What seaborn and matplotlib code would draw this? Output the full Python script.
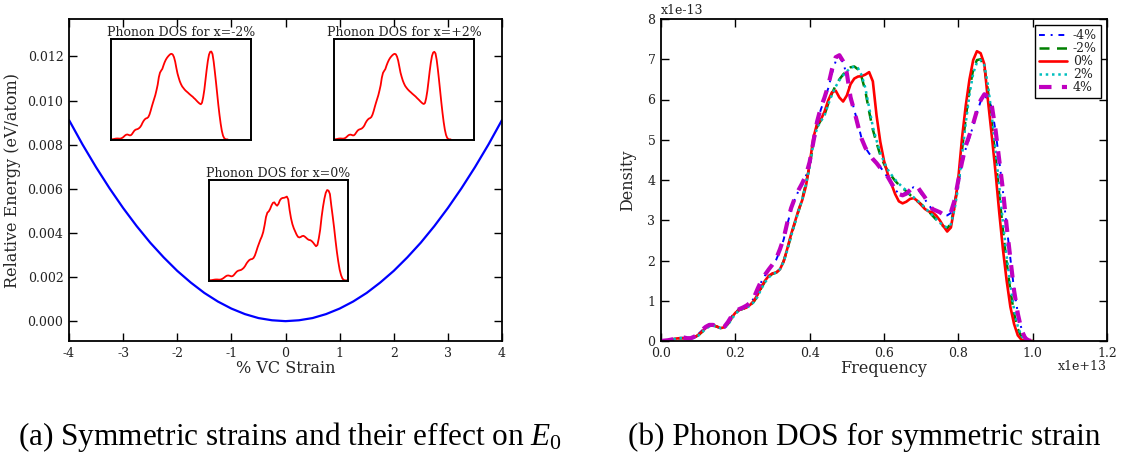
import numpy as np
import pandas as pd
import matplotlib
matplotlib.use("Agg")
import matplotlib.pyplot as plt
import seaborn as sns

# ---------------- data ----------------
strain = [-4.0, -3.75, -3.5, -3.25, -3.0, -2.75, -2.5, -2.25, -2.0, -1.75, -1.5, -1.25,
          -1.0, -0.75, -0.5, -0.25, 0.0, 0.25, 0.5, 0.75, 1.0, 1.25, 1.5, 1.75,
          2.0, 2.25, 2.5, 2.75, 3.0, 3.25, 3.5, 3.75, 4.0]
energy = [0.00912, 0.00801, 0.00698, 0.00602, 0.00513, 0.00431, 0.00356, 0.00289,
          0.00228, 0.00175, 0.00128, 0.00089, 0.00057, 0.00032, 0.00014, 0.00004,
          0.0,
          0.00004, 0.00014, 0.00032, 0.00057, 0.00089, 0.00128, 0.00175, 0.00228,
          0.00289, 0.00356, 0.00431, 0.00513, 0.00602, 0.00698, 0.00801, 0.00912]

# frequency grid in units of 1e13
freq = [round(i * 0.01, 2) for i in range(101)]

dos_m4 = [0.00, 0.01, 0.02, 0.04, 0.06, 0.08, 0.08, 0.07, 0.07, 0.10,
          0.17, 0.26, 0.34, 0.39, 0.40, 0.36, 0.31, 0.34, 0.46, 0.61,
          0.72, 0.79, 0.83, 0.87, 0.94, 1.06, 1.27, 1.47, 1.63, 1.76,
          1.88, 2.02, 2.24, 2.52, 2.90, 3.26, 3.52, 3.73, 3.90, 4.10,
          4.42, 4.92, 5.40, 5.75, 6.00, 6.28, 6.65, 6.95, 7.05, 6.92,
          6.60, 6.10, 5.74, 5.40, 5.02, 4.80, 4.66, 4.55, 4.44, 4.32,
          4.20, 4.06, 3.90, 3.76, 3.66, 3.64, 3.70, 3.78, 3.82, 3.78,
          3.66, 3.52, 3.38, 3.27, 3.22, 3.18, 3.13, 3.12, 3.18, 3.45,
          3.92, 4.38, 4.78, 5.05, 5.35, 5.68, 5.95, 6.08, 6.02, 5.80,
          5.22, 4.48, 3.72, 2.85, 2.05, 1.28, 0.70, 0.30, 0.10, 0.05,
          0.00]
dos_m2 = [0.00, 0.01, 0.02, 0.04, 0.06, 0.07, 0.07, 0.06, 0.06, 0.09,
          0.14, 0.22, 0.31, 0.37, 0.39, 0.36, 0.32, 0.33, 0.42, 0.56,
          0.69, 0.77, 0.80, 0.83, 0.89, 0.98, 1.12, 1.32, 1.48, 1.60,
          1.67, 1.70, 1.78, 1.98, 2.28, 2.62, 2.93, 3.23, 3.53, 3.92,
          4.35, 4.95, 5.32, 5.48, 5.62, 5.90, 6.15, 6.35, 6.50, 6.62,
          6.72, 6.80, 6.82, 6.75, 6.55, 6.20, 5.70, 5.25, 4.92, 4.62,
          4.40, 4.22, 4.10, 3.98, 3.88, 3.80, 3.72, 3.63, 3.55, 3.47,
          3.40, 3.30, 3.22, 3.12, 3.02, 2.93, 2.85, 2.80, 2.92, 3.35,
          3.95, 4.75, 5.55, 6.25, 6.75, 6.98, 7.00, 6.80, 6.20, 5.40,
          4.55, 3.65, 2.75, 1.95, 1.25, 0.68, 0.30, 0.10, 0.02, 0.00,
          0.00]
dos_0 = [0.00, 0.01, 0.02, 0.04, 0.06, 0.07, 0.07, 0.06, 0.06, 0.09,
         0.15, 0.23, 0.32, 0.38, 0.39, 0.36, 0.32, 0.34, 0.44, 0.58,
         0.70, 0.77, 0.80, 0.83, 0.90, 1.00, 1.15, 1.35, 1.50, 1.62,
         1.68, 1.70, 1.78, 1.98, 2.30, 2.65, 2.95, 3.25, 3.50, 3.85,
         4.40, 5.05, 5.40, 5.50, 5.70, 5.98, 6.18, 6.22, 6.05, 5.95,
         6.10, 6.38, 6.52, 6.57, 6.58, 6.62, 6.68, 6.45, 5.60, 4.95,
         4.48, 4.15, 3.90, 3.65, 3.47, 3.42, 3.46, 3.53, 3.55, 3.48,
         3.38, 3.28, 3.22, 3.20, 3.12, 3.00, 2.85, 2.72, 2.82, 3.35,
         4.05, 5.05, 5.85, 6.50, 6.98, 7.20, 7.15, 6.88, 5.95, 5.10,
         4.20, 3.20, 2.28, 1.50, 0.85, 0.42, 0.14, 0.03, 0.00, 0.00,
         0.00]
dos_p2 = [0.00, 0.01, 0.02, 0.04, 0.06, 0.07, 0.07, 0.06, 0.06, 0.08,
          0.13, 0.21, 0.30, 0.36, 0.38, 0.36, 0.32, 0.32, 0.40, 0.54,
          0.67, 0.76, 0.80, 0.83, 0.88, 0.97, 1.10, 1.30, 1.46, 1.58,
          1.66, 1.70, 1.78, 1.97, 2.26, 2.60, 2.92, 3.22, 3.52, 3.90,
          4.32, 4.92, 5.30, 5.46, 5.60, 5.88, 6.12, 6.32, 6.48, 6.60,
          6.70, 6.78, 6.82, 6.78, 6.60, 6.28, 5.80, 5.32, 4.98, 4.68,
          4.45, 4.26, 4.13, 4.01, 3.91, 3.82, 3.74, 3.65, 3.57, 3.49,
          3.41, 3.31, 3.22, 3.13, 3.03, 2.94, 2.86, 2.82, 2.90, 3.28,
          3.85, 4.62, 5.42, 6.12, 6.65, 6.92, 6.98, 6.85, 6.35, 5.60,
          4.75, 3.85, 2.95, 2.12, 1.38, 0.78, 0.36, 0.12, 0.03, 0.00,
          0.00]
dos_p4 = [0.00, 0.01, 0.02, 0.04, 0.07, 0.09, 0.09, 0.07, 0.07, 0.11,
          0.18, 0.27, 0.35, 0.40, 0.40, 0.36, 0.31, 0.35, 0.47, 0.62,
          0.73, 0.79, 0.83, 0.88, 0.95, 1.08, 1.30, 1.50, 1.65, 1.78,
          1.90, 2.05, 2.28, 2.55, 2.95, 3.30, 3.55, 3.75, 3.92, 4.12,
          4.45, 4.95, 5.45, 5.80, 6.05, 6.35, 6.75, 7.05, 7.10, 6.95,
          6.65, 6.05, 5.72, 5.35, 5.02, 4.80, 4.65, 4.52, 4.42, 4.30,
          4.20, 4.08, 3.92, 3.77, 3.65, 3.62, 3.66, 3.75, 3.84, 3.83,
          3.70, 3.57, 3.42, 3.28, 3.24, 3.20, 3.14, 3.13, 3.20, 3.50,
          4.00, 4.45, 4.85, 5.12, 5.40, 5.72, 5.98, 6.13, 6.08, 5.85,
          5.25, 4.50, 3.75, 2.85, 2.05, 1.25, 0.68, 0.27, 0.07, 0.01,
          0.00]

series_labels = ["-4%", "-2%", "0%", "2%", "4%"]
series_values = [dos_m4, dos_m2, dos_0, dos_p2, dos_p4]

left_xticks = [-4, -3, -2, -1, 0, 1, 2, 3, 4]
left_yticks = [0.000, 0.002, 0.004, 0.006, 0.008, 0.010, 0.012]
right_xticks = [0.0, 0.2, 0.4, 0.6, 0.8, 1.0, 1.2]
right_yticks = [0, 1, 2, 3, 4, 5, 6, 7, 8]

inset_titles = ["Phonon DOS for x=-2%", "Phonon DOS for x=+2%", "Phonon DOS for x=0%"]

# ---------------- style ----------------
sns.set_theme(style="white")
plt.rcParams["font.family"] = ["DejaVu Serif"]
plt.rcParams["mathtext.fontset"] = "custom"
plt.rcParams["mathtext.rm"] = "Liberation Serif"
plt.rcParams["mathtext.it"] = "Liberation Serif:italic"
plt.rcParams["axes.edgecolor"] = "black"
plt.rcParams["text.color"] = "#222222"

W, H = 1121, 457
fig = plt.figure(figsize=(W / 100, H / 100), dpi=100)


def px_axes(x0, y0, x1, y1):
    return fig.add_axes([x0 / W, 1 - y1 / H, (x1 - x0) / W, (y1 - y0) / H])


def style_main(ax):
    for s in ax.spines.values():
        s.set_linewidth(1.3)
        s.set_color("black")
    ax.tick_params(direction="in", top=True, right=True, bottom=True, left=True,
                   length=6, width=1, labelsize=9, colors="black",
                   labelcolor="#222222", pad=4)


# ---------------- left panel ----------------
axL = px_axes(69, 19, 502, 341)
df_e = pd.DataFrame({"strain": strain, "energy": energy})
sns.lineplot(data=df_e, x="strain", y="energy", ax=axL, color="#0000ff",
             linewidth=1.6, estimator=None, sort=False)
axL.set_xlim(-4, 4)
axL.set_ylim(-0.0009, 0.0137)
axL.set_xticks(left_xticks)
axL.set_xticklabels([str(t) for t in left_xticks])
axL.set_yticks(left_yticks)
axL.set_yticklabels([f"{t:.3f}" for t in left_yticks])
axL.set_xlabel("% VC Strain", fontsize=11.5, labelpad=0)
axL.set_ylabel("Relative Energy (eV/atom)", fontsize=11.5, labelpad=5)
style_main(axL)

# insets
inset_boxes = [(111, 39, 251, 140), (334, 39, 474, 140), (209, 180, 348, 281)]
inset_data = [dos_m2, dos_p2, dos_0]
inset_xmax = [1.2, 1.2, 1.0]
for (box, title, vals, xm) in zip(inset_boxes, inset_titles, inset_data, inset_xmax):
    ax_in = px_axes(*box)
    df_i = pd.DataFrame({"f": freq, "d": vals})
    sns.lineplot(data=df_i, x="f", y="d", ax=ax_in, color="#ff0000",
                 linewidth=1.3, estimator=None, sort=False)
    ax_in.set_xlim(0, xm)
    ax_in.set_ylim(-0.05, 8)
    ax_in.set_xticks([])
    ax_in.set_yticks([])
    ax_in.set_xlabel("")
    ax_in.set_ylabel("")
    for s in ax_in.spines.values():
        s.set_linewidth(1.4)
        s.set_color("black")
    ax_in.set_title(title, fontsize=9, pad=1.5, color="#222222")

# ---------------- right panel ----------------
axR = px_axes(661, 19, 1107, 341)
styles = [
    dict(color="#0000ff", linestyle=(0, (3, 3, 1, 3)), linewidth=1.4),
    dict(color="#008000", linestyle=(0, (4, 3)), linewidth=1.8),
    dict(color="#ff0000", linestyle="-", linewidth=1.9),
    dict(color="#00bfbf", linestyle=(0, (1, 1.5)), linewidth=1.8),
    dict(color="#bf00bf", linestyle=(0, (3, 2.5)), linewidth=3.0),
]
for lab, vals, st in zip(series_labels, series_values, styles):
    df_s = pd.DataFrame({"f": freq, "d": vals})
    sns.lineplot(data=df_s, x="f", y="d", ax=axR, label=lab, estimator=None,
                 sort=False, **st)
axR.set_xlim(0, 1.2)
axR.set_ylim(0, 8)
axR.set_xticks(right_xticks)
axR.set_xticklabels([f"{t:.1f}" for t in right_xticks])
axR.set_yticks(right_yticks)
axR.set_yticklabels([str(t) for t in right_yticks])
axR.set_xlabel("Frequency", fontsize=11.5, labelpad=0)
axR.set_ylabel("Density", fontsize=11.5, labelpad=8)
style_main(axR)
axR.text(0.0, 1.005, "x1e-13", transform=axR.transAxes, ha="left", va="bottom",
         fontsize=9, color="#222222")
axR.text(1.0, -0.06, "x1e+13", transform=axR.transAxes, ha="right", va="top",
         fontsize=9, color="#222222")
leg = axR.legend(loc="upper right", fontsize=9, frameon=True, fancybox=False,
                 edgecolor="black", framealpha=1, labelspacing=0.0,
                 handlelength=2.2, handletextpad=0.5, borderpad=0.3,
                 borderaxespad=0.5)
leg.get_frame().set_linewidth(1.0)

# ---------------- captions ----------------
fig.text(290 / W, 1 - 437 / H, "(a) Symmetric strains and their effect on $E_0$",
         ha="center", va="center", fontsize=22.5, family="Liberation Serif",
         color="black")
fig.text(864 / W, 1 - 437 / H, "(b) Phonon DOS for symmetric strain",
         ha="center", va="center", fontsize=22.5, family="Liberation Serif",
         color="black")

fig.savefig("out.png", dpi=100)
